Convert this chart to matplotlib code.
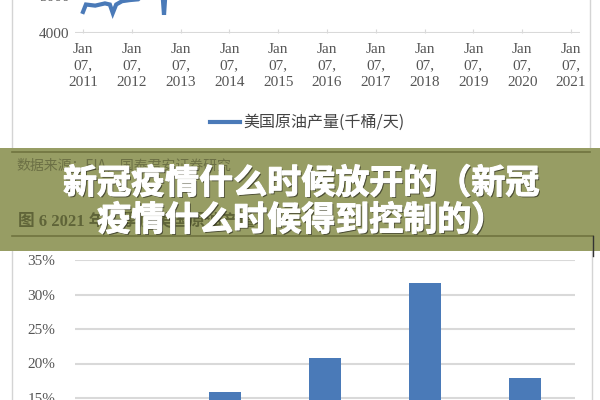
import matplotlib
matplotlib.use("Agg")
import matplotlib.pyplot as plt
import matplotlib.patheffects as pe
from matplotlib.patches import Rectangle

# top chart: US crude output (visible part only, the rest runs off the top)
years = [2011.0, 2011.06, 2011.25, 2011.45, 2011.55, 2011.61, 2011.68, 2011.80,
         2011.96, 2012.13, 2012.27, 2012.48, 2012.62, 2012.66, 2012.70, 2012.90,
         2013.3, 2014.0, 2015.0, 2016.0]
output = [4570, 4770, 4740, 4800, 4770, 4540, 4770, 4860,
          4890, 4910, 5090, 5170, 5230, 4490, 5280, 5450,
          6100, 7900, 9400, 8900]
year_ticks = list(range(2011, 2022))
year_labels = ["Jan\n07,\n%d" % y for y in year_ticks]
line_name = "美国原油产量(千桶/天)"

# bottom chart: bars (only the tops show)
cats = ["2017", "2018", "2019", "2020", "2021"]
share = [0.11, 0.159, 0.208, 0.317, 0.179]
pct_ticks = [0.15, 0.20, 0.25, 0.30, 0.35]

title1 = "新冠疫情什么时候放开的（新冠"
title2 = "疫情什么时候得到控制的）"
src_note = "数据来源：EIA，国泰君安证券研究"
fig_note = "图 6 2021 年一季度美国原油产量"

BLUE = "#4a7ab8"
GRID = "#d9d9d9"
TXT = "#555555"
SERIF = ["Liberation Serif", "DejaVu Serif"]
CJK = ["Noto Sans CJK SC", "DejaVu Sans"]


def px(x0, y0, x1, y1):
    # pixel box (origin top-left) -> figure fraction rect
    return [x0 / 600, 1 - y1 / 400, (x1 - x0) / 600, (y1 - y0) / 400]


fig = plt.figure(figsize=(6, 4), dpi=100)

# background layer in pixel coordinates
bg = fig.add_axes([0, 0, 1, 1], zorder=-5)
bg.set_xlim(0, 600)
bg.set_ylim(400, 0)
bg.axis("off")
bg.add_patch(Rectangle((12, -10), 578, 162, fill=False, ec="#d4d4d4", lw=1))
bg.add_patch(Rectangle((12, 236), 580, 200, fill=False, ec="#d4d4d4", lw=1))
bg.plot([210, 240], [122, 122], color=BLUE, lw=3)
bg.text(243, 122, line_name, family=CJK, fontsize=11.5, color="#444444", va="center")

# top line chart
ax = fig.add_axes(px(75, -152, 580, 33))
ax.set_facecolor("none")
x0 = 2011 - 8 / 48.8
ax.set_xlim(x0, x0 + 505 / 48.8)
ax.set_ylim(4000, 9000)
ax.plot(years, output, color=BLUE, lw=3, solid_joinstyle="miter")
ax.set_xticks(year_ticks)
ax.set_xticklabels(year_labels, family=SERIF, fontsize=11, color=TXT, linespacing=1.35)
ax.set_yticks([4000, 5000, 6000, 7000, 8000, 9000])
ax.set_yticklabels(["4000", "5000", "6000", "7000", "8000", "9000"], family=SERIF,
                   fontsize=11, color=TXT)
ax.tick_params(axis="x", direction="in", length=3, color=GRID, pad=7)
ax.tick_params(axis="y", length=0, pad=4)
ax.grid(axis="y", color=GRID, lw=1.5)
for s in ax.spines.values():
    s.set_visible(False)

# bottom bar chart
bx = fig.add_axes(px(75, 260, 575, 501.5))
bx.set_facecolor("none")
bx.bar(range(len(cats)), share, width=0.32, color=BLUE, zorder=3)
bx.set_xlim(-0.5, len(cats) - 0.5)
bx.set_ylim(0, 0.35)
bx.set_xticks(range(len(cats)))
bx.set_xticklabels(cats, family=SERIF, fontsize=11, color=TXT)
bx.set_yticks(pct_ticks)
bx.set_yticklabels(["%d%%" % round(v * 100) for v in pct_ticks], family=SERIF,
                   fontsize=11, color=TXT)
bx.tick_params(length=0, pad=14)
bx.grid(axis="y", color=GRID, lw=1.5)
for s in bx.spines.values():
    s.set_visible(False)

# green title band on top
ov = fig.add_axes([0, 0, 1, 1], zorder=10)
ov.set_xlim(0, 600)
ov.set_ylim(400, 0)
ov.axis("off")
ov.patch.set_alpha(0)
ov.add_patch(Rectangle((0, 148), 600, 103, color="#979d64", lw=0))
ov.plot([12, 590], [152, 152], color="#70743f", lw=1.2)
ov.plot([12, 593], [236, 236], color="#70743f", lw=1.2)
ov.plot([593, 593], [236, 256], color="#333333", lw=1)
ov.text(16, 165, src_note, family=CJK, fontsize=10, color="#6c7045", va="center")
ov.text(18, 222, fig_note, family=["Liberation Serif", "Noto Sans CJK SC"], fontsize=12,
        color="#5f6438", va="center", weight="bold")
shadow = [pe.SimplePatchShadow(offset=(1.0, -1.0), shadow_rgbFace="#2a2a20", alpha=0.7),
          pe.Stroke(linewidth=0.8, foreground="white"), pe.Normal()]
ov.text(301, 183, title1, family=CJK, fontsize=24.5, weight="bold", color="white",
        ha="center", va="center", path_effects=shadow)
ov.text(301, 220, title2, family=CJK, fontsize=24.5, weight="bold", color="white",
        ha="center", va="center", path_effects=shadow)

fig.savefig("out.png", dpi=100)
